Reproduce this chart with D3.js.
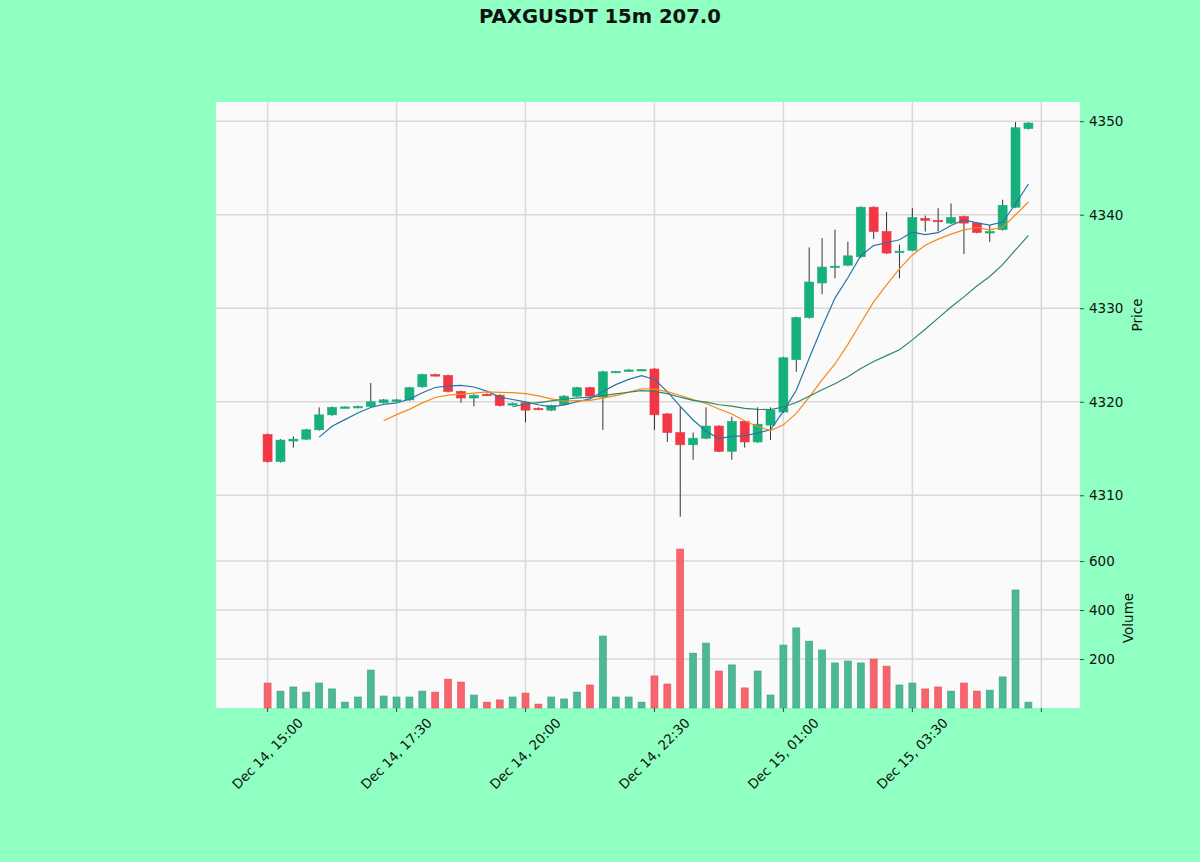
<!DOCTYPE html>
<html>
<head>
<meta charset="utf-8">
<script src="https://cdn.jsdelivr.net/npm/d3@7/dist/d3.min.js"></script>
<style>
  body { margin: 0; background: #8fffc2; }
  svg { display: block; font-family: "DejaVu Sans", sans-serif; }
</style>
</head>
<body>
<svg id="chart" width="1200" height="862"></svg>
<script>
// ---- data (15m candles, Dec 14 15:00 -> Dec 15 05:45) ----
var opens = [4316.5, 4313.6, 4315.8, 4316.0, 4317.0, 4318.6, 4319.4, 4319.4, 4319.5, 4319.9,
             4320.1, 4320.2, 4321.6, 4322.9, 4322.8, 4321.1, 4320.4, 4320.8, 4320.7, 4319.7,
             4319.9, 4319.3, 4319.1, 4319.7, 4320.6, 4321.5, 4320.5, 4323.2, 4323.3, 4323.4,
             4323.5, 4318.7, 4316.7, 4315.4, 4316.1, 4317.4, 4314.7, 4317.9, 4315.7, 4317.5,
             4318.9, 4324.5, 4329.0, 4332.7, 4334.4, 4334.6, 4335.5, 4340.8, 4338.2, 4336.0,
             4336.2, 4339.6, 4339.4, 4339.1, 4339.8, 4339.1, 4338.1, 4338.4, 4340.8, 4349.2];
var highs = [4316.6, 4316.0, 4316.3, 4317.1, 4319.4, 4319.5, 4319.5, 4319.6, 4322.0, 4320.3,
             4320.3, 4321.6, 4323.0, 4323.0, 4322.9, 4321.2, 4320.8, 4320.9, 4320.8, 4319.9,
             4320.0, 4319.4, 4319.7, 4320.7, 4321.6, 4321.6, 4323.3, 4323.3, 4323.5, 4323.5,
             4323.6, 4318.8, 4319.5, 4316.7, 4319.4, 4317.5, 4318.4, 4318.0, 4319.4, 4319.4,
             4324.8, 4329.1, 4336.5, 4337.5, 4338.4, 4337.1, 4340.9, 4340.9, 4340.3, 4336.8,
             4340.7, 4339.9, 4340.7, 4341.2, 4339.9, 4339.2, 4338.9, 4341.6, 4349.9, 4349.9];
var lows = [4313.5, 4313.5, 4315.1, 4315.9, 4316.9, 4318.5, 4319.3, 4319.3, 4319.4, 4319.8,
            4320.0, 4320.1, 4321.5, 4322.7, 4321.0, 4319.9, 4319.5, 4320.6, 4319.5, 4319.6,
            4317.8, 4319.1, 4319.0, 4319.6, 4320.5, 4320.5, 4317.0, 4323.1, 4323.3, 4323.3,
            4317.0, 4315.7, 4307.7, 4313.8, 4316.0, 4314.6, 4313.8, 4315.1, 4315.6, 4315.9,
            4318.8, 4323.2, 4328.9, 4331.5, 4333.2, 4334.5, 4335.4, 4337.4, 4335.8, 4333.2,
            4336.1, 4338.2, 4338.2, 4339.0, 4335.8, 4338.0, 4337.1, 4338.3, 4340.7, 4349.1];
var closes = [4313.6, 4315.9, 4316.0, 4317.0, 4318.6, 4319.4, 4319.45, 4319.5, 4320.0, 4320.2,
              4320.2, 4321.5, 4322.9, 4322.8, 4321.1, 4320.4, 4320.7, 4320.7, 4319.6, 4319.8,
              4319.1, 4319.2, 4319.6, 4320.6, 4321.5, 4320.6, 4323.2, 4323.25, 4323.4, 4323.45,
              4318.6, 4316.7, 4315.4, 4316.1, 4317.4, 4314.7, 4317.9, 4315.7, 4317.6, 4319.1,
              4324.7, 4329.0, 4332.8, 4334.4, 4334.5, 4335.6, 4340.8, 4338.2, 4335.9, 4336.1,
              4339.7, 4339.4, 4339.3, 4339.7, 4339.1, 4338.1, 4338.2, 4341.0, 4349.3, 4349.8];
var volumes = [102, 69, 86, 65, 102, 78, 24, 45, 155, 49,
               45, 45, 69, 65, 118, 106, 53, 24, 33, 45,
               61, 16, 45, 37, 65, 94, 294, 45, 45, 24,
               131, 98, 649, 224, 265, 151, 176, 82, 151, 53,
               257, 327, 273, 237, 184, 192, 184, 200, 171, 94,
               102, 78, 86, 69, 102, 69, 73, 127, 482, 24];

var tickIndex = [0, 10, 20, 30, 40, 50, 60];
var tickLabels = ["Dec 14, 15:00", "Dec 14, 17:30", "Dec 14, 20:00", "Dec 14, 22:30",
                  "Dec 15, 01:00", "Dec 15, 03:30", ""];
var priceTicks = [4310, 4320, 4330, 4340, 4350];
var volumeTicks = [200, 400, 600];
var mavWindows = [5, 10, 20];
var mavColors = ["#2a74a4", "#f5891c", "#2f8766"];

var titleText = "PAXGUSDT 15m 207.0";

// ---- layout ----
var left = 216, right = 1080,
    priceTop = 102, priceBottom = 528,
    volTop = 528, volBottom = 708;

var upColor = "#16b07c", downColor = "#f23645",
    upVol = "#4cb896", downVol = "#f7646e";

var svg = d3.select("#chart");

var x = d3.scaleLinear().domain([-4, 63]).range([left, right]);
var yPrice = d3.scaleLinear().domain([4306.5, 4352.05]).range([priceBottom, priceTop]);
var yVol = d3.scaleLinear().domain([0, 735]).range([volBottom, volTop]);

var candles = opens.map(function (o, i) {
  return {i: i, o: o, h: highs[i], l: lows[i], c: closes[i], v: volumes[i], up: closes[i] >= o};
});

// backgrounds
svg.append("rect").attr("width", 1200).attr("height", 862).attr("fill", "#8fffc2");
svg.append("rect").attr("x", left).attr("y", priceTop)
  .attr("width", right - left).attr("height", volBottom - priceTop).attr("fill", "#fafafa");

// grid
var grid = svg.append("g").attr("stroke", "#d9d9d9").attr("stroke-width", 1.5);
tickIndex.forEach(function (t) {
  grid.append("line").attr("x1", x(t)).attr("x2", x(t)).attr("y1", priceTop).attr("y2", volBottom);
});
priceTicks.forEach(function (p) {
  grid.append("line").attr("x1", left).attr("x2", right).attr("y1", yPrice(p)).attr("y2", yPrice(p));
});
volumeTicks.forEach(function (v) {
  grid.append("line").attr("x1", left).attr("x2", right).attr("y1", yVol(v)).attr("y2", yVol(v));
});

// candles
var bw = 9;
var cg = svg.append("g");
cg.selectAll("line.wick").data(candles).enter().append("line")
  .attr("class", "wick")
  .attr("x1", function (d) { return x(d.i); })
  .attr("x2", function (d) { return x(d.i); })
  .attr("y1", function (d) { return yPrice(d.h); })
  .attr("y2", function (d) { return yPrice(d.l); })
  .attr("stroke", "#333").attr("stroke-width", 1);

cg.selectAll("rect.body").data(candles).enter().append("rect")
  .attr("class", "body")
  .attr("x", function (d) { return x(d.i) - bw / 2; })
  .attr("width", bw)
  .attr("y", function (d) { return yPrice(Math.max(d.o, d.c)); })
  .attr("height", function (d) { return Math.max(1.5, Math.abs(yPrice(d.o) - yPrice(d.c))); })
  .attr("fill", function (d) { return d.up ? upColor : downColor; })
  .attr("stroke", function (d) { return d.up ? upColor : downColor; })
  .attr("stroke-width", 0.6);

// moving averages
mavWindows.forEach(function (w, k) {
  var pts = [];
  for (var i = w - 1; i < closes.length; i++) {
    pts.push([i, d3.mean(closes.slice(i - w + 1, i + 1))]);
  }
  svg.append("path")
    .attr("d", d3.line().x(function (d) { return x(d[0]); }).y(function (d) { return yPrice(d[1]); })(pts))
    .attr("fill", "none")
    .attr("stroke", mavColors[k])
    .attr("stroke-width", 1.2);
});

// volume
var vw = 7;
svg.append("g").selectAll("rect").data(candles).enter().append("rect")
  .attr("x", function (d) { return x(d.i) - vw / 2; })
  .attr("width", vw)
  .attr("y", function (d) { return yVol(d.v); })
  .attr("height", function (d) { return yVol(0) - yVol(d.v); })
  .attr("fill", function (d) { return d.up ? upVol : downVol; })
  .attr("stroke", function (d) { return d.up ? "#3aa684" : "#e8505c"; })
  .attr("stroke-width", 0.6);

// right axes
var priceAxis = d3.axisRight(yPrice).tickValues(priceTicks).tickSize(4).tickPadding(5).tickFormat(d3.format("d"));
var volAxis = d3.axisRight(yVol).tickValues(volumeTicks).tickSize(4).tickPadding(5).tickFormat(d3.format("d"));
[priceAxis, volAxis].forEach(function (a) {
  var g = svg.append("g").attr("transform", "translate(" + right + ",0)").call(a);
  g.select(".domain").remove();
  g.selectAll("line").attr("stroke", "#222").attr("stroke-width", 0.8);
  g.selectAll("text").attr("font-size", 13.5).attr("fill", "#111")
    .attr("font-family", "DejaVu Sans, sans-serif");
});

svg.append("text").attr("transform", "translate(1142," + (priceTop + priceBottom) / 2 + ") rotate(-90)")
  .attr("text-anchor", "middle").attr("font-size", 13.5).attr("fill", "#111").text("Price");
svg.append("text").attr("transform", "translate(1133," + (volTop + volBottom) / 2 + ") rotate(-90)")
  .attr("text-anchor", "middle").attr("font-size", 13.5).attr("fill", "#111").text("Volume");

// bottom ticks and rotated labels
var xg = svg.append("g");
tickIndex.forEach(function (t, k) {
  xg.append("line").attr("x1", x(t)).attr("x2", x(t)).attr("y1", volBottom).attr("y2", volBottom + 4)
    .attr("stroke", "#222").attr("stroke-width", 0.8);
  if (!tickLabels[k]) return;
  var fs = 13.3;
  var txt = xg.append("text")
    .attr("text-anchor", "middle")
    .attr("dominant-baseline", "central")
    .attr("font-size", fs).attr("fill", "#111")
    .text(tickLabels[k]);
  var L = txt.node().getComputedTextLength();
  var half = (L + fs) / (2 * Math.SQRT2);
  txt.attr("transform", "translate(" + x(t) + "," + (volBottom + 8 + half) + ") rotate(-45)");
});

// title
svg.append("text").attr("x", 600).attr("y", 23).attr("text-anchor", "middle")
  .attr("font-size", 19.6).attr("font-weight", "bold").attr("fill", "#111").text(titleText);
</script>
</body>
</html>
